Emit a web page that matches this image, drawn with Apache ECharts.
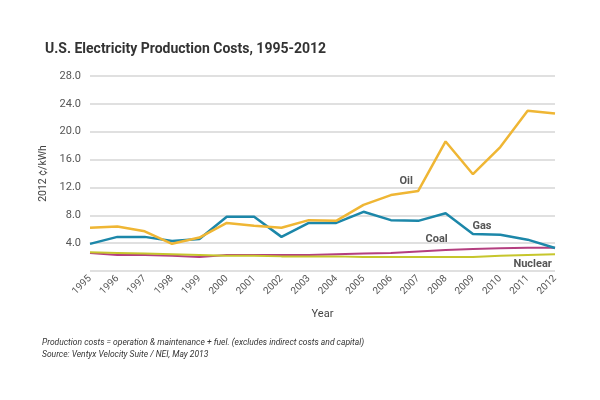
<!DOCTYPE html>
<html>
<head>
<meta charset="utf-8">
<script src="https://cdn.jsdelivr.net/npm/echarts@6/dist/echarts.min.js"></script>
<style>html,body{margin:0;padding:0;background:#fff}#c{width:600px;height:400px}</style>
</head>
<body>
<div id="c"></div>
<script>
const years = ['1995','1996','1997','1998','1999','2000','2001','2002','2003','2004','2005','2006','2007','2008','2009','2010','2011','2012'];
const oil     = [6.2, 6.4, 5.7, 3.9, 4.8, 6.9, 6.5, 6.2, 7.3, 7.2, 9.5, 10.9, 11.5, 18.6, 13.9, 17.8, 23.0, 22.6];
const gas     = [3.9, 4.9, 4.9, 4.3, 4.6, 7.8, 7.8, 4.9, 6.9, 6.9, 8.5, 7.3, 7.2, 8.3, 5.3, 5.2, 4.5, 3.3];
const coal    = [2.6, 2.3, 2.3, 2.2, 2.0, 2.3, 2.3, 2.3, 2.3, 2.4, 2.5, 2.6, 2.8, 3.0, 3.15, 3.25, 3.35, 3.35];
const nuclear = [2.7, 2.6, 2.5, 2.4, 2.3, 2.2, 2.2, 2.1, 2.1, 2.1, 2.0, 2.0, 2.0, 2.0, 2.0, 2.2, 2.3, 2.4];
const yTicks = [0, 4, 8, 12, 16, 20, 24, 28];
const seriesNames = ['Coal', 'Nuclear', 'Gas', 'Oil'];
const labelAnchors = { Oil: ['2007', 12.9], Gas: ['2009', 6.45], Coal: ['2008', 4.6], Nuclear: ['2011', 1.0] };

const colors = { Oil: '#EFB634', Gas: '#1C87A9', Coal: '#B43F80', Nuclear: '#C6C62C' };
const widths = { Oil: 2.5, Gas: 2.5, Coal: 2, Nuclear: 2 };
const offsets = { Oil: [-12, 0], Gas: [9, 0], Coal: [-9, 0], Nuclear: [5, 0] };
const dataMap = { Oil: oil, Gas: gas, Coal: coal, Nuclear: nuclear };
const F = 'Roboto, "Liberation Sans", sans-serif';

const chart = echarts.init(document.getElementById('c'), null, { renderer: 'canvas' });
chart.setOption({
  animation: false,
  backgroundColor: '#fff',
  title: {
    text: 'U.S. Electricity Production Costs, 1995-2012',
    left: 40, top: 37,
    textStyle: { fontFamily: F, fontSize: 14, fontWeight: 'bold', color: '#333' }
  },
  grid: { left: 90, right: 45, top: 76, bottom: 129 },
  xAxis: {
    type: 'category', data: years, boundaryGap: false,
    name: 'Year', nameLocation: 'middle', nameGap: 38,
    nameTextStyle: { fontFamily: F, fontSize: 11, color: '#444' },
    axisLine: { show: false }, axisTick: { show: false },
    axisLabel: { rotate: 45, fontFamily: F, fontSize: 10, color: '#555', margin: 6, interval: 0 }
  },
  yAxis: {
    type: 'value', min: yTicks[0], max: yTicks[yTicks.length - 1], interval: 4,
    name: '2012 ¢/kWh', nameLocation: 'middle', nameGap: 36,
    nameTextStyle: { fontFamily: F, fontSize: 10.5, color: '#444' },
    axisLine: { show: false }, axisTick: { show: false },
    axisLabel: { fontFamily: F, fontSize: 11, color: '#555', margin: 9,
      formatter: v => v === 0 ? '' : v.toFixed(1) },
    splitLine: { lineStyle: { color: '#d6d6d6', width: 1.5 } }
  },
  series: seriesNames.map(n => ({
    name: n, type: 'line', data: dataMap[n], symbol: 'none',
    lineStyle: { color: colors[n], width: widths[n] },
    itemStyle: { color: colors[n] },
    markPoint: {
      symbol: 'circle', symbolSize: 0,
      data: [{ coord: labelAnchors[n], value: n }],
      label: { show: true, formatter: n, offset: offsets[n], fontFamily: F, fontSize: 11, fontWeight: 'bold', color: '#555' }
    }
  })),
  graphic: [
    { type: 'text', left: 42, top: 338, style: { text: 'Production costs = operation & maintenance + fuel. (excludes indirect costs and capital)', font: 'italic 8.5px Roboto, sans-serif', fill: '#333' } },
    { type: 'text', left: 42, top: 350, style: { text: 'Source: Ventyx Velocity Suite / NEI, May 2013', font: 'italic 8.5px Roboto, sans-serif', fill: '#333' } }
  ]
});
</script>
</body>
</html>
